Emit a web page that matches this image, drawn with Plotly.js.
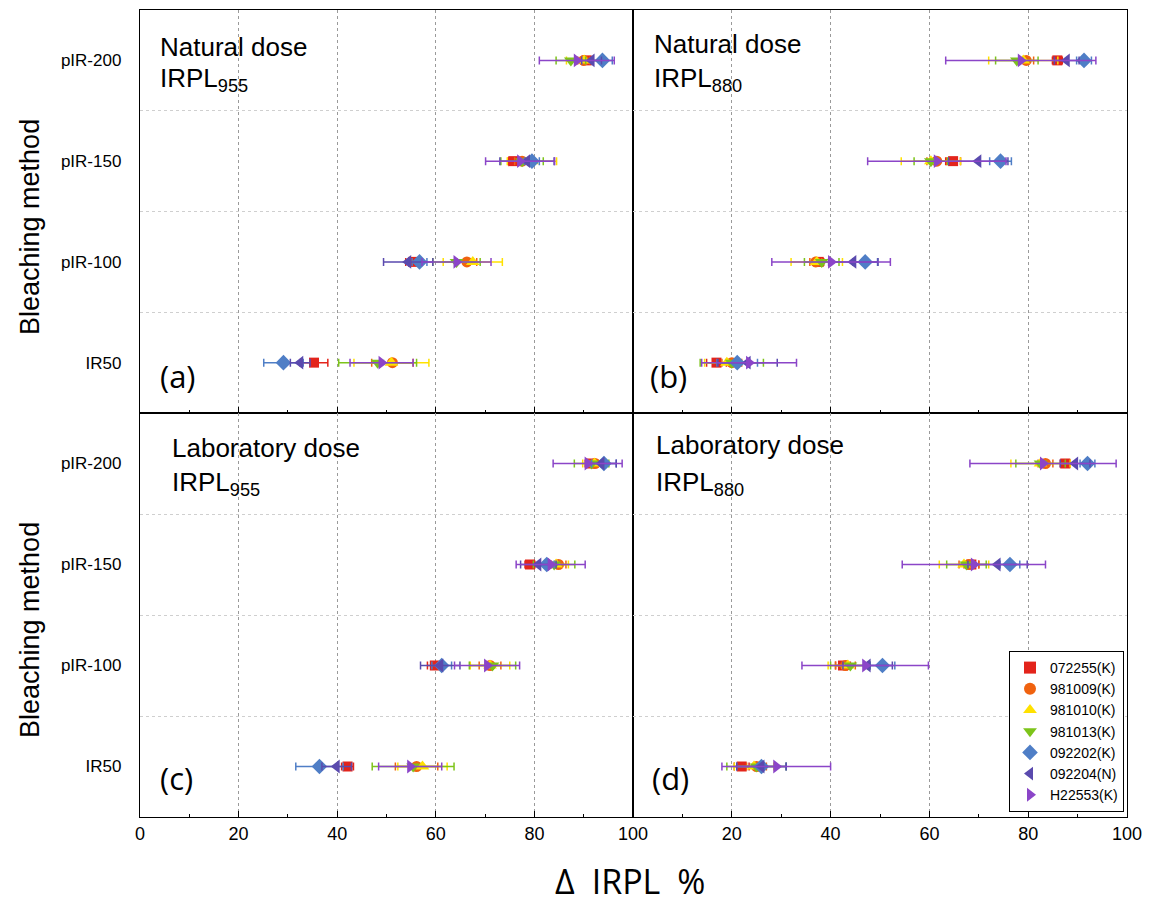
<!DOCTYPE html>
<html>
<head>
<meta charset="utf-8">
<script src="https://cdn.plot.ly/plotly-3.0.1.min.js"></script>
<style>body{margin:0;padding:0;background:#fff}#chart{width:1165px;height:906px}</style>
</head>
<body>
<div id="chart"></div>
<script>
// Categories (bottom to top)
const categories = ['IR50', 'pIR-100', 'pIR-150', 'pIR-200'];
const seriesNames = ['072255(K)', '981009(K)', '981010(K)', '981013(K)', '092202(K)', '092204(N)', 'H22553(K)'];
const xTicksLeft = [0, 20, 40, 60, 80, 100];
const xTicksRight = [20, 40, 60, 80, 100];

// Panel (a) Natural dose IRPL955 : values per category [IR50, pIR-100, pIR-150, pIR-200]
const a_072255 = [35.3, 55.4, 75.7, 90.6], a_072255_err = [2.8, 1.5, 1.0, 1.0];
const a_981009 = [51.2, 66.3, 77.5, 90.0], a_981009_err = [4.2, 2.0, 1.5, 1.2];
const a_981010 = [51.0, 67.5, 79.5, 90.1], a_981010_err = [7.6, 6.0, 5.0, 3.6];
const a_981013 = [48.2, 64.2, 77.5, 87.4], a_981013_err = [7.9, 4.8, 4.3, 3.0];
const a_092202 = [29.1, 56.7, 79.5, 93.8], a_092202_err = [4.0, 1.5, 1.5, 2.0];
const a_092204 = [32.5, 54.4, 78.5, 91.6], a_092204_err = [2.0, 5.0, 5.5, 2.0];
const a_H22553 = [49.0, 64.2, 77.1, 88.6], a_H22553_err = [6.4, 7.0, 7.0, 7.6];

// Panel (b) Natural dose IRPL880
const b_072255 = [16.9, 37.6, 64.8, 85.9], b_072255_err = [2.0, 1.0, 1.5, 1.0];
const b_981009 = [20.0, 37.0, 61.5, 79.6], b_981009_err = [2.0, 1.2, 2.0, 1.5];
const b_981010 = [19.0, 37.2, 60.3, 79.0], b_981010_err = [4.5, 5.2, 6.0, 7.0];
const b_981013 = [20.0, 38.2, 60.3, 77.7], b_981013_err = [6.4, 3.5, 3.4, 4.3];
const b_092202 = [21.1, 47.0, 74.4, 91.3], b_092202_err = [4.1, 2.5, 2.2, 1.5];
const b_092204 = [23.2, 44.6, 69.9, 87.8], b_092204_err = [6.0, 5.0, 6.0, 2.5];
const b_H22553 = [23.5, 40.1, 61.5, 78.5], b_H22553_err = [9.6, 12.0, 14.0, 15.2];

// Panel (c) Laboratory dose IRPL955
const c_072255 = [42.1, 59.8, 79.1, 91.3], c_072255_err = [1.2, 1.5, 1.0, 1.0];
const c_981009 = [56.1, 71.0, 84.9, 92.3], c_981009_err = [4.3, 2.2, 1.5, 1.2];
const c_981010 = [57.3, 71.0, 84.4, 92.2], c_981010_err = [5.0, 4.0, 2.5, 2.4];
const c_981013 = [55.4, 71.5, 84.0, 91.6], c_981013_err = [8.3, 4.7, 4.2, 3.5];
const c_092202 = [36.4, 61.2, 82.5, 94.1], c_092202_err = [4.8, 2.0, 1.5, 2.5];
const c_092204 = [39.9, 60.9, 80.8, 93.6], c_092204_err = [3.0, 4.0, 3.6, 3.0];
const c_H22553 = [54.8, 70.4, 83.3, 90.8], c_H22553_err = [6.4, 6.6, 7.0, 7.0];

// Panel (d) Laboratory dose IRPL880
const d_072255 = [22.0, 42.5, 68.5, 87.5], d_072255_err = [1.5, 1.5, 1.5, 1.0];
const d_981009 = [25.0, 43.0, 68.0, 83.5], d_981009_err = [2.0, 2.0, 2.0, 1.5];
const d_981010 = [24.5, 43.5, 67.0, 82.5], d_981010_err = [4.0, 4.0, 5.0, 6.0];
const d_981013 = [25.0, 44.0, 67.5, 82.5], d_981013_err = [6.0, 4.0, 4.0, 5.0];
const d_092202 = [26.0, 50.5, 76.3, 92.0], d_092202_err = [5.0, 2.5, 2.0, 1.5];
const d_092204 = [26.0, 47.5, 73.8, 89.5], d_092204_err = [5.0, 5.0, 6.0, 3.0];
const d_H22553 = [29.0, 47.0, 69.0, 83.0], d_H22553_err = [11.0, 12.8, 14.5, 14.8];

const panels = [
  {xa: 'x', ya: 'y', vals: [a_072255, a_981009, a_981010, a_981013, a_092202, a_092204, a_H22553],
   errs: [a_072255_err, a_981009_err, a_981010_err, a_981013_err, a_092202_err, a_092204_err, a_H22553_err], legend: false},
  {xa: 'x2', ya: 'y2', vals: [b_072255, b_981009, b_981010, b_981013, b_092202, b_092204, b_H22553],
   errs: [b_072255_err, b_981009_err, b_981010_err, b_981013_err, b_092202_err, b_092204_err, b_H22553_err], legend: false},
  {xa: 'x3', ya: 'y3', vals: [c_072255, c_981009, c_981010, c_981013, c_092202, c_092204, c_H22553],
   errs: [c_072255_err, c_981009_err, c_981010_err, c_981013_err, c_092202_err, c_092204_err, c_H22553_err], legend: false},
  {xa: 'x4', ya: 'y4', vals: [d_072255, d_981009, d_981010, d_981013, d_092202, d_092204, d_H22553],
   errs: [d_072255_err, d_981009_err, d_981010_err, d_981013_err, d_092202_err, d_092204_err, d_H22553_err], legend: true}
];

const colors = ['#E3241B', '#F0620F', '#FFE100', '#7DC41A', '#4F7EC6', '#5A4AAE', '#8B45C8'];
const symbols = ['square', 'circle', 'triangle-up', 'triangle-down', 'diamond', 'triangle-left', 'triangle-right'];
const sizes = [10, 11, 12, 12, 12, 12, 12];

const catIndex = categories.map((c, i) => i);
const traces = [];
panels.forEach(p => {
  seriesNames.forEach((name, s) => {
    traces.push({
      type: 'scatter', mode: 'markers', name: name,
      x: p.vals[s], y: catIndex,
      xaxis: p.xa, yaxis: p.ya,
      showlegend: p.legend,
      marker: {symbol: symbols[s], color: colors[s], size: sizes[s], line: {width: 0}},
      error_x: {type: 'data', array: p.errs[s], visible: true, color: colors[s], thickness: 1.5, width: 4}
    });
  });
});

const L = 140, T = 10, W = 987, H = 807;
const px = v => (v - L) / W;
const py = v => (T + H - v) / H;
const xd1 = [0, 493 / W], xd2 = [493 / W, 1];
const yd1 = [404 / H, 1], yd2 = [0, 404 / H];

function xax(domain, anchor, labels, ticks) {
  return {
    domain: domain, anchor: anchor, range: [0, 100],
    tickvals: ticks, showticklabels: labels,
    ticks: 'inside', ticklen: 6, tickcolor: '#000',
    showline: true, linecolor: '#000', linewidth: 1.2, mirror: true,
    showgrid: true, gridcolor: '#9a9a9a', griddash: '3px,3px', gridwidth: 1,
    zeroline: false, fixedrange: true,
    tickfont: {family: 'Liberation Sans, Arial', size: 18, color: '#000'},
    minor: {tickvals: [10, 30, 50, 70, 90], ticks: 'inside', ticklen: 3, tickcolor: '#000', showgrid: false}
  };
}
function yax(domain, anchor, labels) {
  return {
    domain: domain, anchor: anchor, range: [-0.5, 3.5],
    tickvals: catIndex, ticktext: categories, showticklabels: labels,
    ticks: '', ticklabelstandoff: 14,
    showline: true, linecolor: '#000', linewidth: 1.2, mirror: true,
    showgrid: false, zeroline: false, fixedrange: true,
    tickfont: {family: 'Liberation Sans, Arial', size: 17, color: '#000'},
    minor: {tickvals: [0.5, 1.5, 2.5], showgrid: true, gridcolor: '#cfcfcf', griddash: 'dot', gridwidth: 1, ticks: ''}
  };
}

const annFont = {family: 'Liberation Sans, Arial', size: 26, color: '#000'};
const labFont = {family: 'Open Sans, Noto Sans, sans-serif', size: 31, color: '#000'};
function ann(text, x, y, font) {
  return {text: text, xref: 'paper', yref: 'paper', x: px(x), y: py(y), xanchor: 'left', yanchor: 'middle', showarrow: false, font: font};
}

const annotations = [
  ann('Natural dose', 158, 47, annFont), ann('IRPL<sub>955</sub>', 158, 80, annFont), ann('(a)', 158, 376, labFont),
  ann('Natural dose', 652, 44, annFont), ann('IRPL<sub>880</sub>', 652, 80, annFont), ann('(b)', 648, 376, labFont),
  ann('Laboratory dose', 170, 448, annFont), ann('IRPL<sub>955</sub>', 170, 483, annFont), ann('(c)', 158, 778, labFont),
  ann('Laboratory dose', 654, 445, annFont), ann('IRPL<sub>880</sub>', 654, 483, annFont), ann('(d)', 650, 778, labFont),
  {text: 'Bleaching method', xref: 'paper', yref: 'paper', x: px(30), y: py(227), xanchor: 'center', yanchor: 'middle',
   textangle: -90, showarrow: false, font: {family: 'Liberation Sans, Arial', size: 27, color: '#000'}},
  {text: 'Bleaching method', xref: 'paper', yref: 'paper', x: px(30), y: py(630), xanchor: 'center', yanchor: 'middle',
   textangle: -90, showarrow: false, font: {family: 'Liberation Sans, Arial', size: 27, color: '#000'}},
  {text: '\u0394\u2002IRPL\u2002%', xref: 'paper', yref: 'paper', x: px(630), y: py(881), xanchor: 'center', yanchor: 'middle',
   showarrow: false, font: {family: 'Open Sans, Noto Sans, sans-serif', size: 34, color: '#000'}}
];

const layout = {
  width: 1165, height: 906,
  margin: {l: L, r: 1165 - L - W, t: T, b: 906 - T - H, pad: 0},
  paper_bgcolor: '#fff', plot_bgcolor: '#fff',
  showlegend: true,
  legend: {x: px(1124), y: py(812), xanchor: 'right', yanchor: 'bottom', bgcolor: '#fff', bordercolor: '#000', borderwidth: 1,
           font: {family: 'Liberation Sans, Arial', size: 14, color: '#000'}, tracegroupgap: 0, itemsizing: 'constant',
           itemwidth: 30},
  xaxis: xax(xd1, 'y', false, xTicksLeft), yaxis: yax(yd1, 'x', true),
  xaxis2: xax(xd2, 'y2', false, xTicksRight), yaxis2: yax(yd1, 'x2', false),
  xaxis3: xax(xd1, 'y3', true, xTicksLeft), yaxis3: yax(yd2, 'x3', true),
  xaxis4: xax(xd2, 'y4', true, xTicksRight), yaxis4: yax(yd2, 'x4', false),
  annotations: annotations
};

Plotly.newPlot('chart', traces, layout, {displayModeBar: false, staticPlot: true});
</script>
</body>
</html>
